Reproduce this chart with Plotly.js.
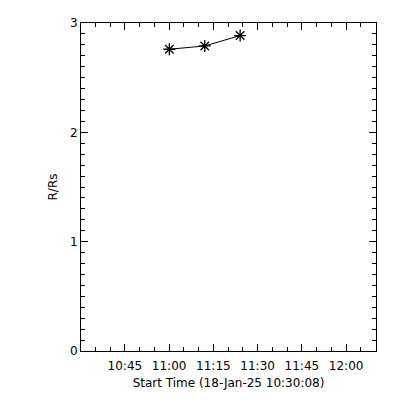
<!DOCTYPE html>
<html>
<head>
<meta charset="utf-8">
<script src="https://cdn.plot.ly/plotly-3.0.1.min.js"></script>
<style>html,body{margin:0;padding:0;background:#fff;}#chart{width:400px;height:400px;}</style>
</head>
<body>
<div id="chart"></div>
<script>
const times = ["2025-01-18 11:00:05", "2025-01-18 11:12:05", "2025-01-18 11:24:05"];
const heights = [2.76, 2.79, 2.885];
const xRange = ["2025-01-18 10:30:08", "2025-01-18 12:10:08"];
const yRange = [0, 3];
const xTitle = "Start Time (18-Jan-25 10:30:08)";
const yTitle = "R/Rs";

const font = {family: "DejaVu Sans, sans-serif", size: 12, color: "#000"};

Plotly.newPlot("chart", [{
  x: times, y: heights, type: "scatter", mode: "lines+markers",
  line: {color: "#000", width: 1},
  marker: {symbol: "asterisk-open", size: 10, color: "#000", line: {color: "#000", width: 1.3}},
  showlegend: false
}], {
  width: 400, height: 400,
  margin: {l: 80.5, r: 24, t: 23, b: 49},
  paper_bgcolor: "#fff", plot_bgcolor: "#fff",
  font: font,
  xaxis: {
    type: "date", range: xRange, showgrid: false, zeroline: false,
    showline: true, linecolor: "#000", linewidth: 1, mirror: "ticks",
    ticks: "inside", ticklen: 7, tickcolor: "#000", tickwidth: 1,
    dtick: 900000, tick0: "2025-01-18 10:45:00", tickformat: "%H:%M",
    ticklabelstandoff: 4,
    minor: {ticks: "inside", ticklen: 4, dtick: 300000, tick0: "2025-01-18 10:45:00", tickcolor: "#000", showgrid: false},
    tickfont: font,
    title: {text: xTitle, font: font, standoff: 6}
  },
  yaxis: {
    range: yRange, showgrid: false, zeroline: false,
    showline: true, linecolor: "#000", linewidth: 1, mirror: "ticks",
    ticks: "inside", ticklen: 7, tickcolor: "#000", tickwidth: 1,
    dtick: 1, tick0: 0,
    minor: {ticks: "inside", ticklen: 4, dtick: 0.1, tickcolor: "#000", showgrid: false},
    tickfont: font,
    title: {text: yTitle, font: font, standoff: 9}
  }
}, {displayModeBar: false, staticPlot: true});
</script>
</body>
</html>
